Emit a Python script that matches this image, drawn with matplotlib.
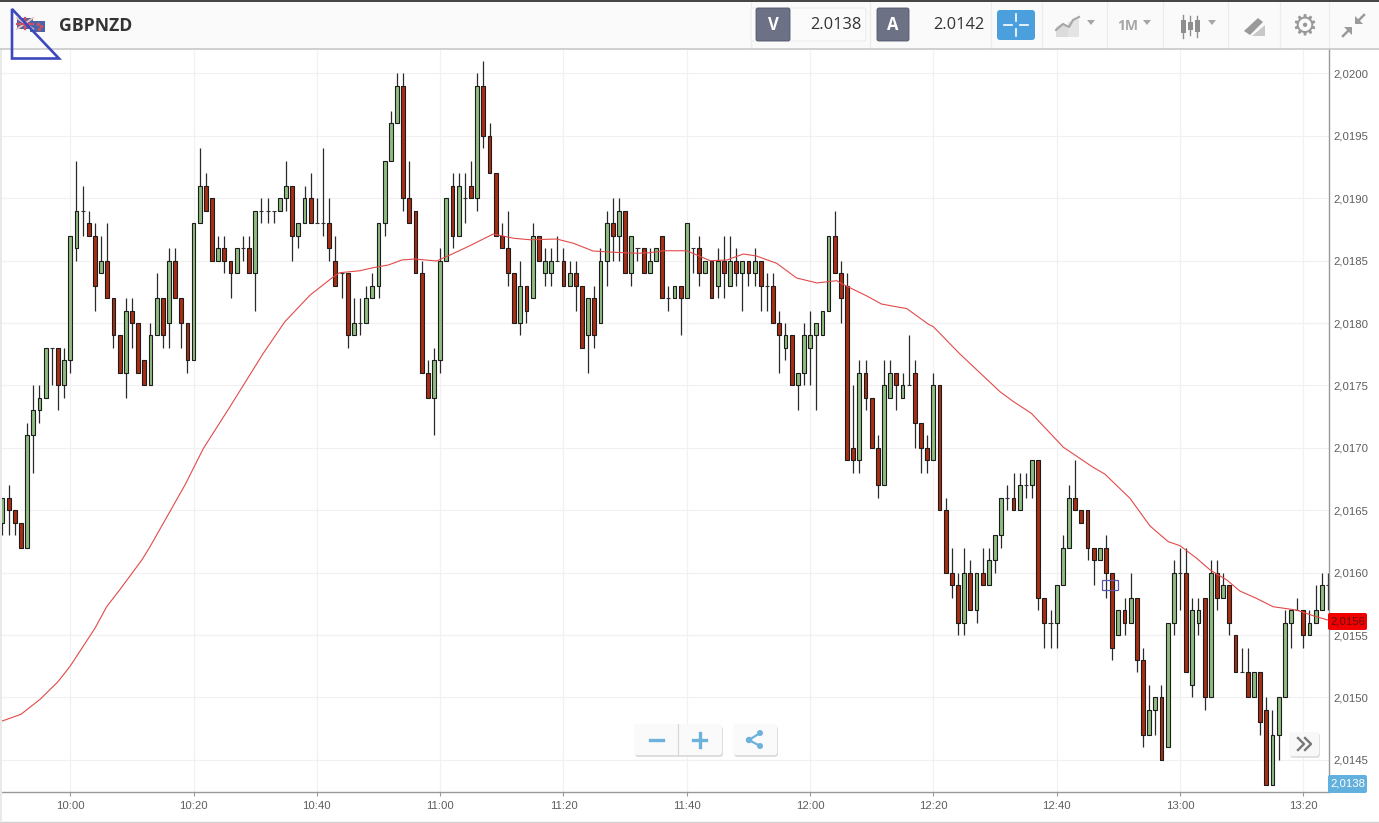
import matplotlib
matplotlib.use("Agg")
import matplotlib.pyplot as plt
from matplotlib.patches import Rectangle, Polygon, Circle, FancyBboxPatch
import numpy as np

# prices are kept as pips above 2.0000, one candle a minute, index 0 = 10:00
first_index = -11
opens = [
    164, 166, 165, 164, 162, 171, 173, 174, 178, 178,
    175, 177, 186, 189, 188, 187, 184, 185, 182, 179,
    176, 181, 180, 177, 175, 179, 182, 180, 185, 182,
    180, 177, 188, 191, 190, 185, 186, 185, 184, 186,
    186, 184, 189, 189, 189, 189, 190, 191, 187, 188,
    190, 188, 188, 188, 185, 184, 184, 179, 180, 180,
    182, 183, 188, 193, 196, 199, 190, 189, 184, 176,
    174, 177, 185, 191, 187, 190, 191, 190, 199, 195,
    192, 187, 186, 184, 180, 183, 182, 187, 184, 184,
    185, 185, 183, 184, 183, 179, 182, 180, 185, 188,
    187, 189, 184, 186, 186, 184, 185, 187, 182, 182,
    183, 182, 186, 186, 184, 185, 183, 185, 183, 185,
    184, 185, 184, 185, 183, 183, 180, 178, 179, 175,
    176, 178, 179, 179, 181, 187, 184, 183, 170, 169,
    176, 174, 170, 167, 174, 176, 174, 175, 176, 172,
    170, 169, 175, 165, 160, 159, 156, 160, 157, 160,
    159, 161, 163, 166, 166, 165, 167, 167, 169, 158,
    156, 156, 159, 162, 166, 165, 165, 162, 161, 162,
    160, 155, 157, 156, 158, 153, 147, 149, 150, 146,
    156, 160, 160, 151, 156, 158, 150, 160, 158, 159,
    155, 152, 152, 150, 152, 149, 143, 147, 150, 156,
    157, 157, 155, 156, 157, 159,
]
highs = [
    166, 167, 165, 164, 172, 175, 175, 178, 178, 178,
    178, 187, 193, 191, 189, 188, 187, 188, 182, 179,
    182, 182, 180, 177, 180, 184, 182, 186, 186, 182,
    180, 188, 194, 192, 190, 187, 187, 185, 186, 187,
    187, 189, 190, 190, 189, 190, 193, 191, 188, 191,
    192, 190, 194, 190, 187, 184, 184, 182, 182, 183,
    184, 188, 193, 197, 200, 200, 193, 189, 185, 177,
    178, 186, 190, 192, 192, 192, 193, 200, 201, 196,
    192, 188, 189, 184, 185, 183, 188, 187, 186, 186,
    187, 186, 185, 185, 183, 182, 183, 186, 189, 190,
    190, 189, 187, 186, 186, 186, 186, 187, 183, 183,
    183, 188, 186, 187, 185, 185, 186, 187, 187, 186,
    185, 185, 186, 185, 184, 184, 181, 180, 179, 176,
    180, 181, 180, 181, 187, 189, 185, 184, 175, 177,
    177, 174, 171, 177, 177, 176, 176, 179, 177, 172,
    171, 176, 175, 166, 162, 160, 162, 161, 160, 162,
    162, 163, 166, 167, 168, 168, 168, 169, 169, 158,
    157, 159, 163, 167, 169, 165, 165, 162, 162, 163,
    160, 157, 158, 160, 158, 154, 151, 150, 151, 156,
    161, 162, 162, 158, 158, 158, 161, 161, 160, 159,
    155, 154, 154, 152, 152, 150, 149, 150, 157, 157,
    158, 157, 157, 159, 160, 160,
]
lows = [
    163, 163, 163, 162, 162, 168, 172, 174, 175, 173,
    174, 176, 185, 187, 187, 181, 184, 182, 178, 176,
    174, 178, 176, 175, 175, 179, 178, 178, 182, 178,
    176, 177, 188, 189, 185, 185, 184, 182, 184, 185,
    184, 181, 188, 188, 188, 189, 189, 185, 186, 188,
    188, 188, 187, 185, 183, 182, 178, 179, 179, 180,
    182, 182, 187, 193, 196, 189, 188, 184, 176, 174,
    171, 176, 185, 186, 187, 188, 190, 189, 194, 192,
    187, 186, 183, 180, 179, 180, 182, 185, 183, 183,
    185, 183, 183, 181, 178, 176, 178, 180, 183, 185,
    185, 184, 183, 185, 184, 184, 185, 182, 181, 182,
    179, 182, 184, 183, 184, 182, 182, 182, 183, 183,
    181, 183, 183, 181, 181, 180, 176, 177, 175, 173,
    175, 175, 173, 179, 181, 184, 180, 169, 168, 168,
    173, 170, 166, 167, 174, 173, 174, 175, 170, 168,
    168, 169, 165, 160, 158, 155, 155, 157, 156, 159,
    159, 160, 162, 165, 165, 165, 166, 166, 157, 154,
    154, 154, 159, 162, 165, 164, 161, 159, 161, 158,
    153, 155, 155, 156, 152, 146, 147, 147, 145, 146,
    155, 157, 152, 150, 155, 149, 150, 157, 158, 155,
    152, 152, 150, 150, 147, 143, 143, 145, 150, 154,
    157, 154, 155, 156, 157, 157,
]
closes = [
    166, 165, 164, 162, 171, 173, 174, 178, 178, 175,
    177, 187, 189, 189, 187, 183, 185, 182, 179, 176,
    181, 180, 176, 175, 179, 182, 179, 185, 182, 180,
    177, 188, 191, 189, 185, 186, 185, 184, 186, 186,
    184, 189, 189, 189, 189, 190, 191, 187, 188, 190,
    188, 188, 188, 186, 183, 184, 179, 180, 180, 182,
    183, 188, 193, 196, 199, 190, 188, 184, 176, 174,
    177, 185, 190, 187, 191, 190, 190, 199, 195, 192,
    187, 186, 184, 180, 183, 181, 187, 185, 185, 185,
    185, 183, 184, 183, 178, 182, 179, 185, 188, 187,
    189, 184, 187, 186, 184, 185, 186, 182, 182, 183,
    182, 188, 186, 184, 185, 182, 185, 184, 185, 184,
    185, 184, 185, 183, 183, 180, 179, 179, 175, 176,
    179, 179, 180, 181, 187, 184, 182, 169, 169, 176,
    174, 170, 167, 175, 176, 175, 175, 175, 172, 170,
    169, 175, 165, 160, 159, 156, 160, 157, 160, 159,
    161, 163, 166, 166, 165, 167, 167, 169, 158, 156,
    156, 159, 162, 166, 165, 164, 162, 161, 162, 160,
    154, 157, 156, 158, 153, 147, 149, 150, 145, 156,
    160, 160, 152, 157, 157, 150, 160, 158, 159, 156,
    152, 152, 150, 152, 148, 143, 147, 150, 156, 157,
    157, 155, 156, 157, 159, 159,
]

# moving average
ma_index = [-11.4, -8, -4.9, -2, 0, 4, 5.9, 8, 11.6, 12.9, 18.6, 21.6, 25.9, 31.3, 34.8, 38.9, 42.7,
            43.7, 47, 49.1, 51.6, 53.8, 55.9, 59.4, 61.6, 64.8, 68.6, 71.9, 74.6, 78.9, 81.6, 84.8,
            88.1, 91.9, 94, 96.2, 100, 101.6, 103.8, 106.5, 109.2, 111.3, 114.6, 117.8, 121.1, 124.3,
            125.9, 129.1, 131.6, 135.7, 139.2, 140, 144.3, 150.8, 153, 155.9, 161.1, 165.9, 167.8,
            171.9, 175.1, 175.9, 178.1, 180, 182.7, 184.9, 187.6, 189.7, 192.4, 195.1, 198.9, 201.6, 204]
ma_values = [148.05, 148.65, 149.85, 151.26, 152.52, 155.54, 157.27, 158.61, 161.01, 162.05, 167.02,
             169.96, 173.29, 177.57, 180.1, 182.24, 183.71, 184.03, 184.19, 184.43, 184.65, 185.05,
             185.13, 184.97, 185.45, 186.19, 187.13, 186.79, 186.67, 186.73, 186.39, 185.77, 185.67,
             185.59, 185.63, 185.79, 185.79, 185.45, 184.99, 185.05, 185.53, 185.37, 184.78, 183.61,
             183.21, 183.39, 182.96, 182.19, 181.52, 181.15, 179.9, 179.7, 177.52, 174.5, 173.7,
             172.76, 170.04, 168.44, 167.9, 165.95, 163.76, 163.41, 162.48, 162.16, 161.15, 160.21,
             159.41, 158.53, 157.94, 157.27, 157.0, 156.55, 156.2]

y_ticks = [2.0145, 2.0150, 2.0155, 2.0160, 2.0165, 2.0170, 2.0175, 2.0180, 2.0185, 2.0190, 2.0195, 2.0200]
x_tick_index = [0, 20, 40, 60, 80, 100, 120, 140, 160, 180, 200]
x_tick_labels = ["10:00", "10:20", "10:40", "11:00", "11:20", "11:40",
                 "12:00", "12:20", "12:40", "13:00", "13:20"]
symbol = "GBPNZD"
bid = "2.0138"
ask = "2.0142"
last_label = "2,0156"
low_label = "2,0138"

UP = "#8fbc80"
DOWN = "#a82d13"
EDGE = "#1c1c1c"
GRID = "#f1f1f1"
TXT = "#5e5e5e"
ICON = "#a6a6a6"
BLUE = "#6cb2dc"
FONT = "Liberation Sans"

W, H = 1379, 823
fig = plt.figure(figsize=(W / 100, H / 100), dpi=100, facecolor="white")
ax = fig.add_axes([0, (H - 792.3) / H, 1329 / W, (792.3 - 49) / H])

idx = np.arange(first_index, first_index + len(opens))
o = 2 + np.array(opens) / 10000
h = 2 + np.array(highs) / 10000
l = 2 + np.array(lows) / 10000
c = 2 + np.array(closes) / 10000

ax.vlines(idx, l, h, color="#2a2a2a", lw=0.9, zorder=2)
up = c > o
down = c < o
doji = c == o
ax.bar(idx[up], (c - o)[up], bottom=o[up], width=0.62, color=UP, edgecolor=EDGE, lw=0.8, zorder=3)
ax.bar(idx[down], (c - o)[down], bottom=o[down], width=0.62, color=DOWN, edgecolor=EDGE, lw=0.8, zorder=3)
ax.hlines(o[doji], idx[doji] - 0.33, idx[doji] + 0.33, color="#333333", lw=0.8, zorder=3)
ax.plot(ma_index, 2 + np.array(ma_values) / 10000, color="#e24a4a", lw=0.8, zorder=4)

ax.set_xlim(-11.4, 204.17)
ax.set_ylim(2 + 142.4 / 10000, 2 + 201.955 / 10000)
ax.set_xticks(x_tick_index)
ax.set_xticklabels(x_tick_labels, fontfamily=FONT, fontsize=8.2, color=TXT)
ax.set_yticks(y_ticks)
ax.set_yticklabels([("%.4f" % v).replace(".", ",") for v in y_ticks], fontfamily=FONT, fontsize=8.2, color=TXT)
ax.yaxis.tick_right()
ax.tick_params(axis="x", length=3.2, width=0.8, color="#999999", pad=3)
ax.tick_params(axis="y", length=0, pad=3)
ax.grid(color=GRID, lw=0.9)
ax.set_axisbelow(True)
for s in ["top", "left"]:
    ax.spines[s].set_visible(False)
for s in ["bottom", "right"]:
    ax.spines[s].set_color("#999999")
    ax.spines[s].set_linewidth(1.0)

# page furniture drawn on a full size overlay in pixel coordinates
ui = fig.add_axes([0, 0, 1, 1], facecolor="none", zorder=10)
ui.set_xlim(0, W)
ui.set_ylim(H, 0)
ui.axis("off")


def box(x0, y0, x1, y1, fc, ec="none", lw=0, z=1, round_=0):
    if round_:
        p = FancyBboxPatch((x0, y0), x1 - x0, y1 - y0, boxstyle="round,pad=0,rounding_size=%g" % round_,
                           fc=fc, ec=ec, lw=lw, zorder=z)
    else:
        p = Rectangle((x0, y0), x1 - x0, y1 - y0, fc=fc, ec=ec, lw=lw, zorder=z)
    ui.add_patch(p)


def tri(x, y, size=4, color=ICON):
    ui.add_patch(Polygon([(x - size, y - 2), (x + size, y - 2), (x, y + 3)], fc=color, ec="none", zorder=3))


# header strip
box(0, 1, W, 48, "#fafafa")
ui.plot([0, W], [0.6, 0.6], color="#222222", lw=1.2, zorder=3)
ui.plot([0, W], [48.5, 48.5], color="#c8c8c8", lw=1.2, zorder=3)
box(0, 49, 2, 821, "#e9e9e9", z=0.5)
ui.plot([0, W], [821.5, 821.5], color="#d0d0d0", lw=1, zorder=3)
ui.text(59, 26, symbol, fontfamily="Open Sans", fontweight="bold", fontsize=12.7, color="#333333", va="center")

# flags
box(17, 18, 33, 29, "#5a5f98", z=2)
ui.plot([17, 33], [18, 29], color="#e8c8c8", lw=1.4, zorder=3)
ui.plot([17, 33], [29, 18], color="#e8c8c8", lw=1.4, zorder=3)
ui.plot([25, 25], [18, 29], color="#c8506a", lw=1.6, zorder=3)
ui.plot([17, 33], [23.5, 23.5], color="#c8506a", lw=1.6, zorder=3)
box(30, 21, 45, 32, "#4a64aa", z=2)
ui.scatter([38, 41, 39], [24, 26, 29], s=2, color="#d05060", zorder=3)

# hand drawn triangle
ui.add_patch(Polygon([(12, 9), (59, 58.5), (12, 58.5)], closed=True, fc="none", ec="#3d48bd", lw=1.9, zorder=6))

# bid and ask boxes
box(751, 8, 866, 41, "#fbfbfb", ec="#ececec", lw=0.8, z=1.5, round_=2)
box(756, 8, 790, 41, "#6c7186", ec="#50556a", lw=0.6, z=2, round_=2)
ui.text(773, 25, "V", color="white", fontfamily="Open Sans", fontweight="bold", fontsize=12, ha="center", va="center", zorder=3)
ui.text(862, 25, bid, color="#333333", fontfamily="Open Sans", fontsize=11.8, ha="right", va="center", zorder=3)
box(877, 8, 909, 41, "#6c7186", ec="#50556a", lw=0.6, z=2, round_=2)
ui.text(893, 25, "A", color="white", fontfamily="Open Sans", fontweight="bold", fontsize=12, ha="center", va="center", zorder=3)
ui.text(984, 25, ask, color="#333333", fontfamily="Open Sans", fontsize=11.8, ha="right", va="center", zorder=3)

# crosshair button
box(997, 10, 1035, 40, "#4a9fdc", z=2, round_=3)
for a, b in [((1004, 25), (1012, 25)), ((1020, 25), (1028, 25)), ((1016, 14), (1016, 21)), ((1016, 29), (1016, 36))]:
    ui.plot([a[0], b[0]], [a[1], b[1]], color="white", lw=1.2, zorder=3)

for xs in [751, 870, 991, 1042, 1107, 1163, 1228, 1280, 1329]:
    ui.plot([xs, xs], [1, 48], color="#ececec", lw=0.9, zorder=1.2)

# toolbar icons
ui.add_patch(Polygon([(1056, 37), (1056, 27), (1063, 23), (1068, 28), (1068, 37)], fc="#dcdcdc", ec="none", zorder=3))
ui.add_patch(Polygon([(1068, 37), (1068, 22), (1079, 19), (1079, 37)], fc="#e4e4e4", ec="none", zorder=3))
ui.plot([1056, 1063, 1069, 1073, 1079], [30, 24, 27, 20, 17], color=ICON, lw=1.5, zorder=4)
tri(1091, 22)
ui.text(1128, 26, "1M", color=ICON, fontfamily="Open Sans", fontweight="bold", fontsize=10, ha="center", va="center", zorder=3)
tri(1147, 22)
for x0, y0, y1, w0, w1 in [(1183, 20, 33, 15, 38), (1190, 22, 30, 16, 35), (1197, 20, 32, 16, 37)]:
    ui.plot([x0, x0], [w0, w1], color="#8e8e8e", lw=1, zorder=3)
    box(x0 - 2.5, y0, x0 + 2.5, y1, "#8e8e8e", z=4)
tri(1212, 22)
ui.add_patch(Polygon([(1244, 31), (1258, 18), (1263, 22), (1250, 35)], fc="#9a9a9a", ec="none", zorder=3))
ui.add_patch(Polygon([(1252, 36), (1265, 25), (1265, 36)], fc="#c8c8c8", ec="none", zorder=2.5))
ui.text(1304, 26, "\u2699", color="#999999", fontfamily="DejaVu Sans", fontsize=21, ha="center", va="center", zorder=3)
# collapse arrows
ui.plot([1364, 1358], [15, 21], color="#9a9a9a", lw=1.8, zorder=3)
ui.add_patch(Polygon([(1355, 24), (1355, 16), (1363, 24)], fc="#9a9a9a", ec="none", zorder=3))
ui.plot([1343, 1349], [36, 30], color="#9a9a9a", lw=1.8, zorder=3)
ui.add_patch(Polygon([(1352, 27), (1344, 27), (1352, 35)], fc="#9a9a9a", ec="none", zorder=3))

# zoom and share buttons
box(635, 726, 723, 757, "#dedede", z=2, round_=3)
box(634, 724, 722, 755, "#fafafa", z=2.1, round_=3)
ui.plot([678, 678], [724, 755], color="#d8d8d8", lw=0.9, zorder=3)
ui.plot([650, 663], [740, 740], color=BLUE, lw=2.4, zorder=3)
ui.plot([693, 706], [740, 740], color=BLUE, lw=2.4, zorder=3)
ui.plot([699.5, 699.5], [733, 747], color=BLUE, lw=2.4, zorder=3)
box(734, 726, 778, 757, "#dedede", z=2, round_=3)
box(733, 724, 777, 755, "#fafafa", z=2.1, round_=3)
ui.plot([760, 749, 760], [733, 740, 746], color=BLUE, lw=1.6, zorder=3)
for cx, cy, r in [(760, 733, 3), (749, 740, 3.2), (760, 746, 3)]:
    ui.add_patch(Circle((cx, cy), r, fc=BLUE, ec="none", zorder=4))
box(1290, 733, 1320, 758, "#e0e0e0", z=2, round_=3)
box(1289, 732, 1319, 756, "#f8f8f8", z=2.1, round_=3)
ui.plot([1298, 1304, 1298], [738, 744, 750], color="#777777", lw=1.7, zorder=3)
ui.plot([1305, 1311, 1305], [738, 744, 750], color="#777777", lw=1.7, zorder=3)

# price tags on the axis
box(1328, 613, 1367, 630, "#f00000", z=4, round_=2)
ui.text(1347.5, 621.5, last_label, color="#6a1010", fontfamily=FONT, fontsize=8.2, ha="center", va="center", zorder=5)
box(1328, 775, 1367, 793, "#62b0de", z=4, round_=2)
ui.text(1347.5, 784, low_label, color="white", fontfamily=FONT, fontsize=8.2, ha="center", va="center", zorder=5)

# small marker on the chart
box(1101.5, 580, 1118, 589.5, "none", ec="#5a5aa8", lw=0.9, z=5)

fig.savefig("out.png", dpi=100)
